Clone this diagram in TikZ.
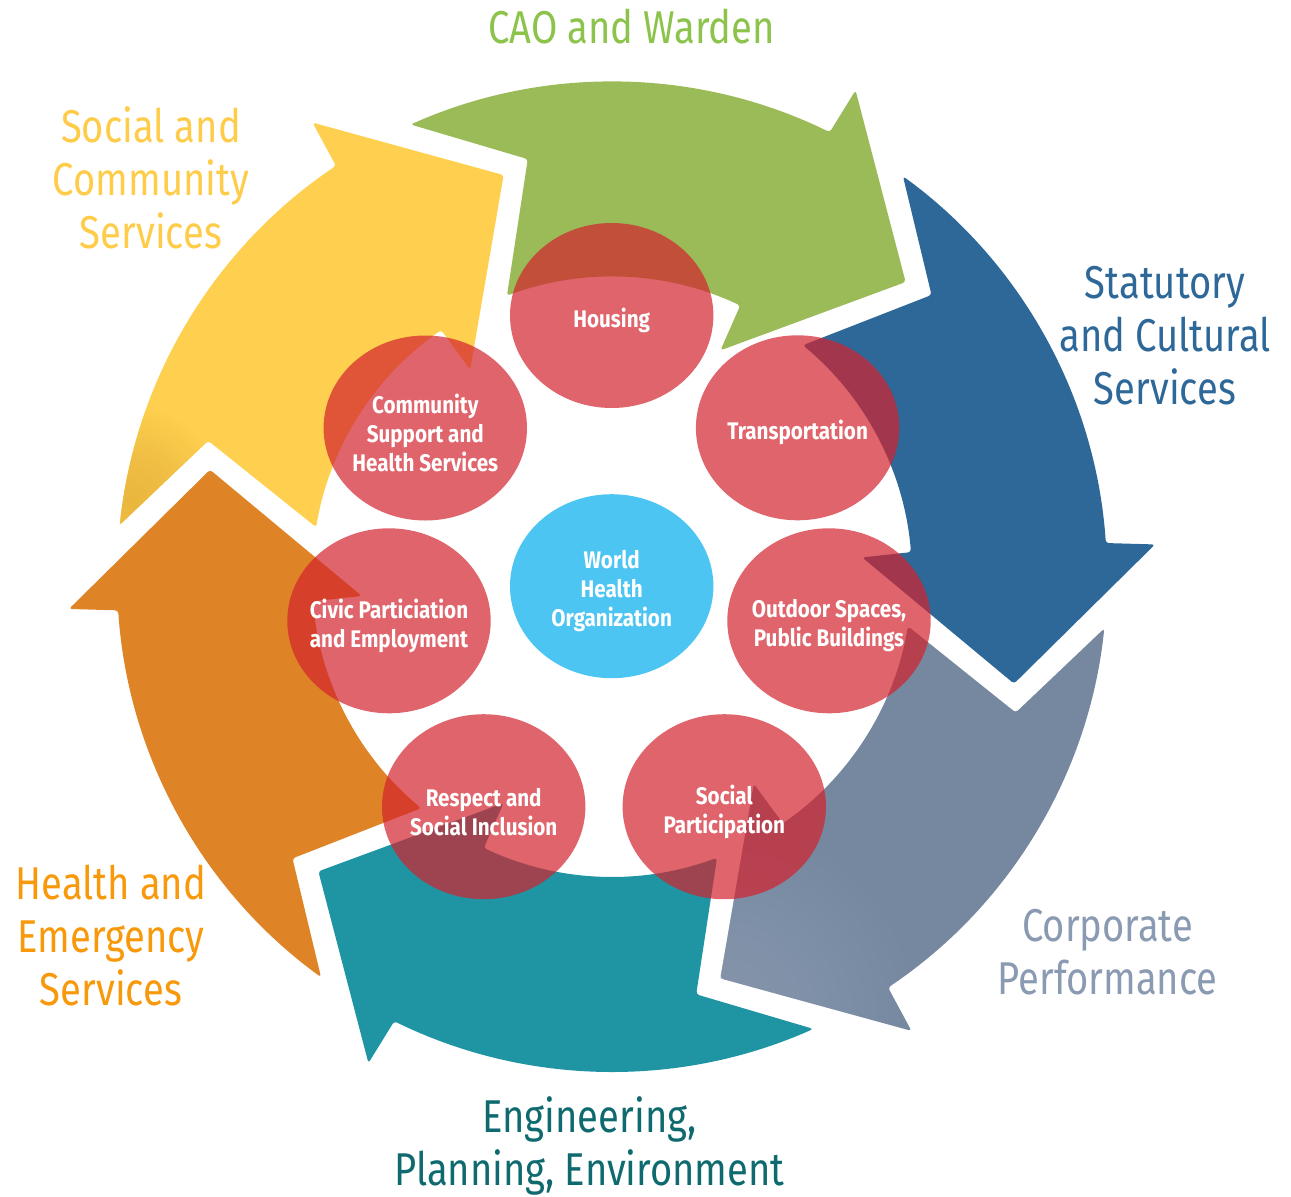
\documentclass[tikz,border=0pt]{standalone}
\usepackage{fontspec}
\setmainfont{Fira Sans}
\newfontfamily\labelfont{Fira Sans}[FakeStretch=0.83]
\newfontfamily\bubblefont{Fira Sans}[FakeStretch=0.86]
\usetikzlibrary{shapes.geometric}

\definecolor{yellowA}{HTML}{FFD04F}
\definecolor{yellowB}{HTML}{E2AE3A}
\definecolor{greenA}{HTML}{9BBB59}
\definecolor{blueA}{HTML}{2E6898}
\definecolor{greyA}{HTML}{7687A0}
\definecolor{greyB}{HTML}{93A2B8}
\definecolor{tealA}{HTML}{1F95A4}
\definecolor{orangeA}{HTML}{DE8426}
\definecolor{bubblered}{HTML}{D3222D}
\definecolor{whoblue}{HTML}{4CC5F2}
\definecolor{lblgreen}{HTML}{8CC34A}
\definecolor{lblyellow}{HTML}{FFCC4A}
\definecolor{lblblue}{HTML}{2E6898}
\definecolor{lblgrey}{HTML}{8A9AB2}
\definecolor{lblteal}{HTML}{0E6A6E}
\definecolor{lblorange}{HTML}{F7990A}

% one curved arrow of the cycle, starting (tail) at angle #1
\newcommand\cyclearrow[2]{%
  \fill[#2, rounded corners=3pt] ({#1}:495) arc[start angle={#1}, end angle={#1+50.1}, radius=495]
    -- ({#1+50.6}:544) -- ({#1+68.9}:416) -- ({#1+49.6}:251) -- ({#1+49.3}:300)
    arc[start angle={#1+49.3}, end angle={#1+3.5}, radius=300]
    -- ({#1+12.6}:426) -- cycle;}
\newcommand\cycleclip[1]{%
  \clip ({#1}:495) arc[start angle={#1}, end angle={#1+50.1}, radius=495]
    -- ({#1+50.6}:544) -- ({#1+68.9}:416) -- ({#1+49.6}:251) -- ({#1+49.3}:300)
    arc[start angle={#1+49.3}, end angle={#1+3.5}, radius=300]
    -- ({#1+12.6}:426) -- cycle;}

\tikzset{
  bubble/.style={ellipse, minimum width=203.4pt, minimum height=185pt, inner sep=0pt,
    fill=bubblered, fill opacity=0.7, text opacity=1, draw=none},
  whobubble/.style={ellipse, minimum width=203.4pt, minimum height=184pt, inner sep=0pt,
    fill=whoblue, draw=none},
  btext/.style={text=white, align=center, inner sep=0pt,
    font=\bubblefont\bfseries\fontsize{24}{29}\selectfont},
  outerlabel/.style={align=center, inner sep=0pt,
    font=\labelfont\fontsize{46}{53}\selectfont},
}

\begin{document}
\begin{tikzpicture}[x=1pt,y=-1pt]
\useasboundingbox (0,0) rectangle (1291,1197);

% ---- cycle of arrows ----
\begin{scope}[shift={(612,576.7)}]
  \cyclearrow{186}{yellowA}
  \begin{scope}
    \cycleclip{186}
    \foreach \k in {1,...,16}
      \fill[yellowB, fill opacity=0.06] (-480,-78) circle ({90*\k/16});
  \end{scope}
  \cyclearrow{246}{greenA}
  \cyclearrow{306}{blueA}
  \cyclearrow{366}{greyA}
  \begin{scope}
    \cycleclip{366}
    \foreach \k in {1,...,16}
      \fill[greyB, fill opacity=0.06] (110,440) circle ({190*\k/16});
  \end{scope}
  \cyclearrow{66}{tealA}
  \cyclearrow{126}{orangeA}
\end{scope}

% ---- bubbles ----
\node[bubble] (housing)   at (611.7,315.5) {};
\node[bubble] (transport) at (797.6,427.8) {};
\node[bubble] (outdoor)   at (829,620.8)   {};
\node[bubble] (socialp)   at (724.3,806.7) {};
\node[bubble] (respect)   at (483.7,806.7) {};
\node[bubble] (civic)     at (389,620.8)   {};
\node[bubble] (community) at (425.3,428)   {};
\node[whobubble] (who)    at (611.7,586.2) {};

\node[btext] (housing-t)   at ([yshift=-5pt]housing.center)   {Housing};
\node[btext] (transport-t) at ([yshift=-5pt]transport.center) {Transportation};
\node[btext] (outdoor-t)   at ([yshift=-5pt]outdoor.center)   {Outdoor Spaces,\\Public Buildings};
\node[btext] (socialp-t)   at ([yshift=-5pt]socialp.center)   {Social\\Participation};
\node[btext] (respect-t)   at ([yshift=-5pt]respect.center)   {Respect and\\Social Inclusion};
\node[btext] (civic-t)     at ([yshift=-5pt]civic.center)     {Civic Particiation\\and Employment};
\node[btext] (community-t) at ([yshift=-5pt]community.center) {Community\\Support and\\Health Services};
\node[btext] (who-t)       at ([yshift=-5pt]who.center)       {World\\Health\\Organization};

% ---- department labels ----
\node[outerlabel, text=lblgreen]  (cao)         at (631.5,26.5)  {CAO and Warden};
\node[outerlabel, text=lblyellow] (socialcs)    at (151,178)     {Social and\\Community\\Services};
\node[outerlabel, text=lblblue]   (statutory)   at (1165,336)    {Statutory\\and Cultural\\Services};
\node[outerlabel, text=lblgrey]   (corporate)   at (1107.5,952)  {Corporate\\Performance};
\node[outerlabel, text=lblteal]   (engineering) at (589.5,1146)  {Engineering,\\Planning, Environment};
\node[outerlabel, text=lblorange] (health)      at (111,936)     {Health and\\Emergency\\Services};
\end{tikzpicture}
\end{document}
